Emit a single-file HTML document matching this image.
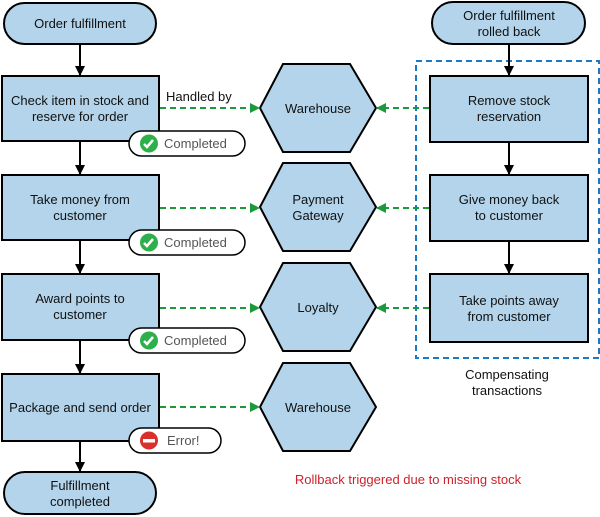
<!DOCTYPE html>
<html><head><style>body{margin:0;background:#fff}svg{display:block}text{font-family:"Liberation Sans",sans-serif;font-size:13px;fill:#111}</style></head><body>
<svg width="600" height="517" viewBox="0 0 600 517">
<defs>
<marker id="a" markerWidth="10" markerHeight="10" refX="9" refY="5" orient="auto" markerUnits="userSpaceOnUse"><path d="M0,0 L10,5 L0,10 z" fill="#000"/></marker>
<marker id="g" markerWidth="10" markerHeight="10" refX="9" refY="5" orient="auto" markerUnits="userSpaceOnUse"><path d="M0,0 L10,5 L0,10 z" fill="#1a9a3a"/></marker>
</defs>
<g stroke="#000" stroke-width="2" fill="#b3d4ea">
<rect x="4" y="3" width="152" height="41" rx="20.5"/>
<rect x="2" y="76" width="157" height="65"/>
<rect x="2" y="175" width="157" height="65"/>
<rect x="2" y="274" width="157" height="66"/>
<rect x="2" y="374" width="157" height="67"/>
<rect x="4" y="472" width="152" height="42" rx="21"/>
<rect x="432" y="2" width="153" height="42" rx="21"/>
<rect x="430" y="76" width="158" height="66"/>
<rect x="430" y="175" width="158" height="66"/>
<rect x="430" y="274" width="158" height="68"/>
<polygon points="260,108 283,64 350,64 376,108 350,152 283,152"/>
<polygon points="260,207 283,163 350,163 376,207 350,251 283,251"/>
<polygon points="260,307 283,263 350,263 376,307 350,351 283,351"/>
<polygon points="260,407 283,363 350,363 376,407 350,451 283,451"/>
</g>
<rect x="416" y="61" width="183" height="297" fill="none" stroke="#1a7ac8" stroke-width="2" stroke-dasharray="6,4"/>
<g stroke="#000" stroke-width="2" marker-end="url(#a)">
<line x1="80" y1="44" x2="80" y2="75"/>
<line x1="80" y1="141" x2="80" y2="174"/>
<line x1="80" y1="240" x2="80" y2="273"/>
<line x1="80" y1="340" x2="80" y2="373"/>
<line x1="80" y1="441" x2="80" y2="471"/>
<line x1="509" y1="44" x2="509" y2="75"/>
<line x1="509" y1="142" x2="509" y2="174"/>
<line x1="509" y1="241" x2="509" y2="273"/>
</g>
<g stroke="#1a9a3a" stroke-width="2" stroke-dasharray="6,4" marker-end="url(#g)">
<line x1="160" y1="108" x2="259" y2="108"/>
<line x1="160" y1="208" x2="259" y2="208"/>
<line x1="160" y1="308" x2="259" y2="308"/>
<line x1="160" y1="407" x2="259" y2="407"/>
<line x1="429" y1="108" x2="377" y2="108"/>
<line x1="429" y1="208" x2="377" y2="208"/>
<line x1="429" y1="308" x2="377" y2="308"/>
</g>
<g stroke="#000" stroke-width="1.5" fill="#fff">
<rect x="129" y="131" width="116" height="25" rx="12.5"/>
<rect x="129" y="230" width="116" height="25" rx="12.5"/>
<rect x="129" y="328" width="116" height="25" rx="12.5"/>
<rect x="129" y="428" width="92" height="25" rx="12.5"/>
</g>
<g fill="#2db04b"><circle cx="149" cy="143.5" r="9"/><circle cx="149" cy="242.5" r="9"/><circle cx="149" cy="340.5" r="9"/></g>
<g stroke="#fff" stroke-width="2.5" fill="none"><path d="M144,144 l3,3 l6,-7"/><path d="M144,243 l3,3 l6,-7"/><path d="M144,341 l3,3 l6,-7"/></g>
<circle cx="149" cy="440.5" r="9" fill="#d9302c"/><rect x="143" y="439" width="12" height="3.5" fill="#fff"/>
<g text-anchor="middle">
<text x="80" y="28">Order fulfillment</text>
<text x="80" y="105">Check item in stock and</text><text x="80" y="121">reserve for order</text>
<text x="80" y="204">Take money from</text><text x="80" y="220">customer</text>
<text x="80" y="303">Award points to</text><text x="80" y="319">customer</text>
<text x="80" y="412">Package and send order</text>
<text x="80" y="490">Fulfillment</text><text x="80" y="506">completed</text>
<text x="509" y="20">Order fulfillment</text><text x="509" y="36">rolled back</text>
<text x="509" y="105">Remove stock</text><text x="509" y="121">reservation</text>
<text x="509" y="204">Give money back</text><text x="509" y="220">to customer</text>
<text x="509" y="305">Take points away</text><text x="509" y="321">from customer</text>
<text x="318" y="113">Warehouse</text>
<text x="318" y="204">Payment</text><text x="318" y="220">Gateway</text>
<text x="318" y="312">Loyalty</text>
<text x="318" y="412">Warehouse</text>
<text x="507" y="379">Compensating</text><text x="507" y="395">transactions</text>
<text x="408" y="484" style="fill:#d0202a">Rollback triggered due to missing stock</text>
</g>
<text x="166" y="101">Handled by</text>
<g style="fill:#555"><text x="164" y="148" style="fill:#555">Completed</text><text x="164" y="247" style="fill:#555">Completed</text><text x="164" y="345" style="fill:#555">Completed</text><text x="167" y="445" style="fill:#555">Error!</text></g>
</svg>
</body></html>
